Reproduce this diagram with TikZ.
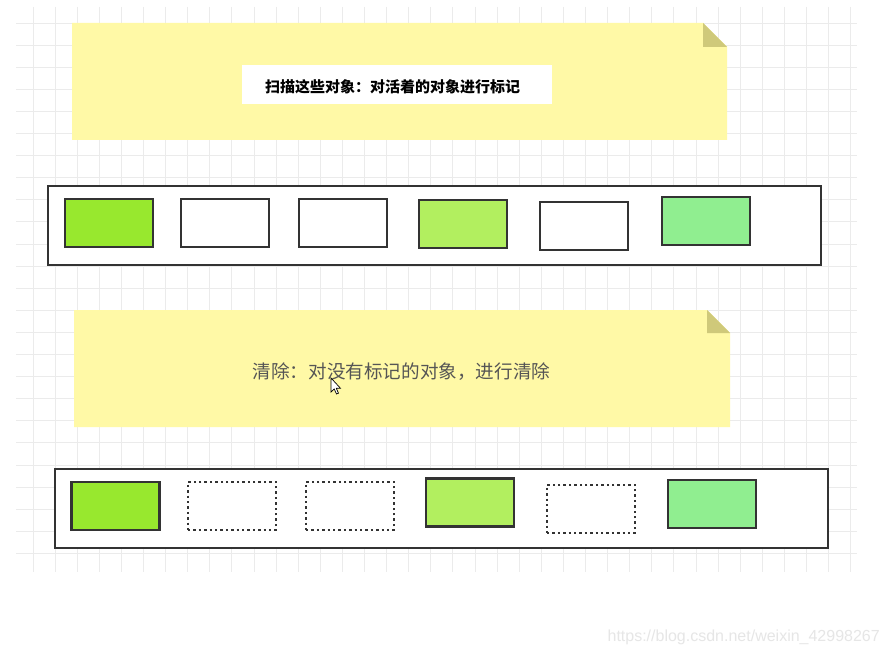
\documentclass[tikz,border=0pt]{standalone}
\usepackage{fontspec}
\setmainfont{Liberation Sans}
\newfontfamily\cjk{Noto Sans CJK SC}
\definecolor{gridc}{HTML}{EBEBEB}
\definecolor{notec}{HTML}{FFF9A6}
\definecolor{foldc}{HTML}{CFC97A}
\definecolor{edgec}{HTML}{333333}
\definecolor{gA}{HTML}{98E82E}
\definecolor{gB}{HTML}{B2EF5F}
\definecolor{gC}{HTML}{90EE90}
\definecolor{txtgray}{HTML}{555555}
\definecolor{wmark}{HTML}{E6E6E6}
\tikzset{
  objbox/.style={draw=edgec, line width=2.8pt, minimum width=88pt, minimum height=48pt, inner sep=0pt},
  freedbox/.style={draw=edgec, line width=2.6pt, dash pattern=on 2.4pt off 3pt, minimum width=88pt, minimum height=48pt, inner sep=0pt},
  heapbox/.style={draw=edgec, line width=2.9pt, fill=white, inner sep=0pt},
}
\begin{document}
\begin{tikzpicture}[x=1pt,y=-1pt]
\useasboundingbox (0,0) rectangle (889,655);
\fill[white] (0,0) rectangle (889,655);
% grid
\foreach \i in {0,...,37} {\draw[gridc, line width=0.9pt] ({33+22.1*\i},7) -- ({33+22.1*\i},572);}
\foreach \j in {0,...,24} {\draw[gridc, line width=0.9pt] (16,{23+22.1*\j}) -- (857,{23+22.1*\j});}

% note 1
\fill[notec] (72,23) -- (703,23) -- (727,47) -- (727,140) -- (72,140) -- cycle;
\fill[foldc] (703,23) -- (703,47) -- (727,47) -- cycle;
\node[fill=white, minimum width=310pt, minimum height=39pt, inner sep=0pt] (mark) at (396.5,85) {};
\node[font=\cjk\bfseries\fontsize{15pt}{17pt}\selectfont, text=black, inner sep=0pt] (marktxt) at (392.5,87) {扫描这些对象：对活着的对象进行标记};

% heap 1
\node[heapbox, minimum width=773pt, minimum height=79pt] (heapA) at (434.5,225.5) {};
\node[objbox, fill=gA] (a1) at (109,223) {};
\node[objbox, fill=white] (a2) at (225,223) {};
\node[objbox, fill=white] (a3) at (343,223) {};
\node[objbox, fill=gB] (a4) at (463,224) {};
\node[objbox, fill=white] (a5) at (584,226) {};
\node[objbox, fill=gC] (a6) at (706,221) {};

% note 2
\fill[notec] (74,310) -- (707,310) -- (730,333) -- (730,427) -- (74,427) -- cycle;
\fill[foldc] (707,310) -- (707,333) -- (730,333) -- cycle;
\node[font=\cjk\fontsize{18.6pt}{21pt}\selectfont, text=txtgray, inner sep=0pt] (sweeptxt) at (401.5,372) {清除：对没有标记的对象，进行清除};
% mouse cursor
\draw[black, line width=0.7pt, fill=white, line join=miter] (331,378) -- (331,392) -- (334.2,389) -- (336.5,394) -- (338.5,393.2) -- (336.3,388.3) -- (340.5,388.3) -- cycle;

% heap 2
\node[heapbox, minimum width=773pt, minimum height=79pt] (heapB) at (441.5,508.5) {};
\node[objbox, fill=gA] (b1) at (115.5,506) {};
\node[freedbox, fill=white] (b2) at (232,506) {};
\node[freedbox, fill=white] (b3) at (350,506) {};
\node[objbox, fill=gB] (b4) at (470,502.5) {};
\node[freedbox, fill=white] (b5) at (591,509) {};
\node[objbox, fill=gC] (b6) at (712,504) {};

% watermark
\node[font=\fontsize{16pt}{18pt}\selectfont, text=wmark, anchor=east, inner sep=0pt] (wm) at (880,637) {https://blog.csdn.net/weixin\_42998267};
\end{tikzpicture}
\end{document}
